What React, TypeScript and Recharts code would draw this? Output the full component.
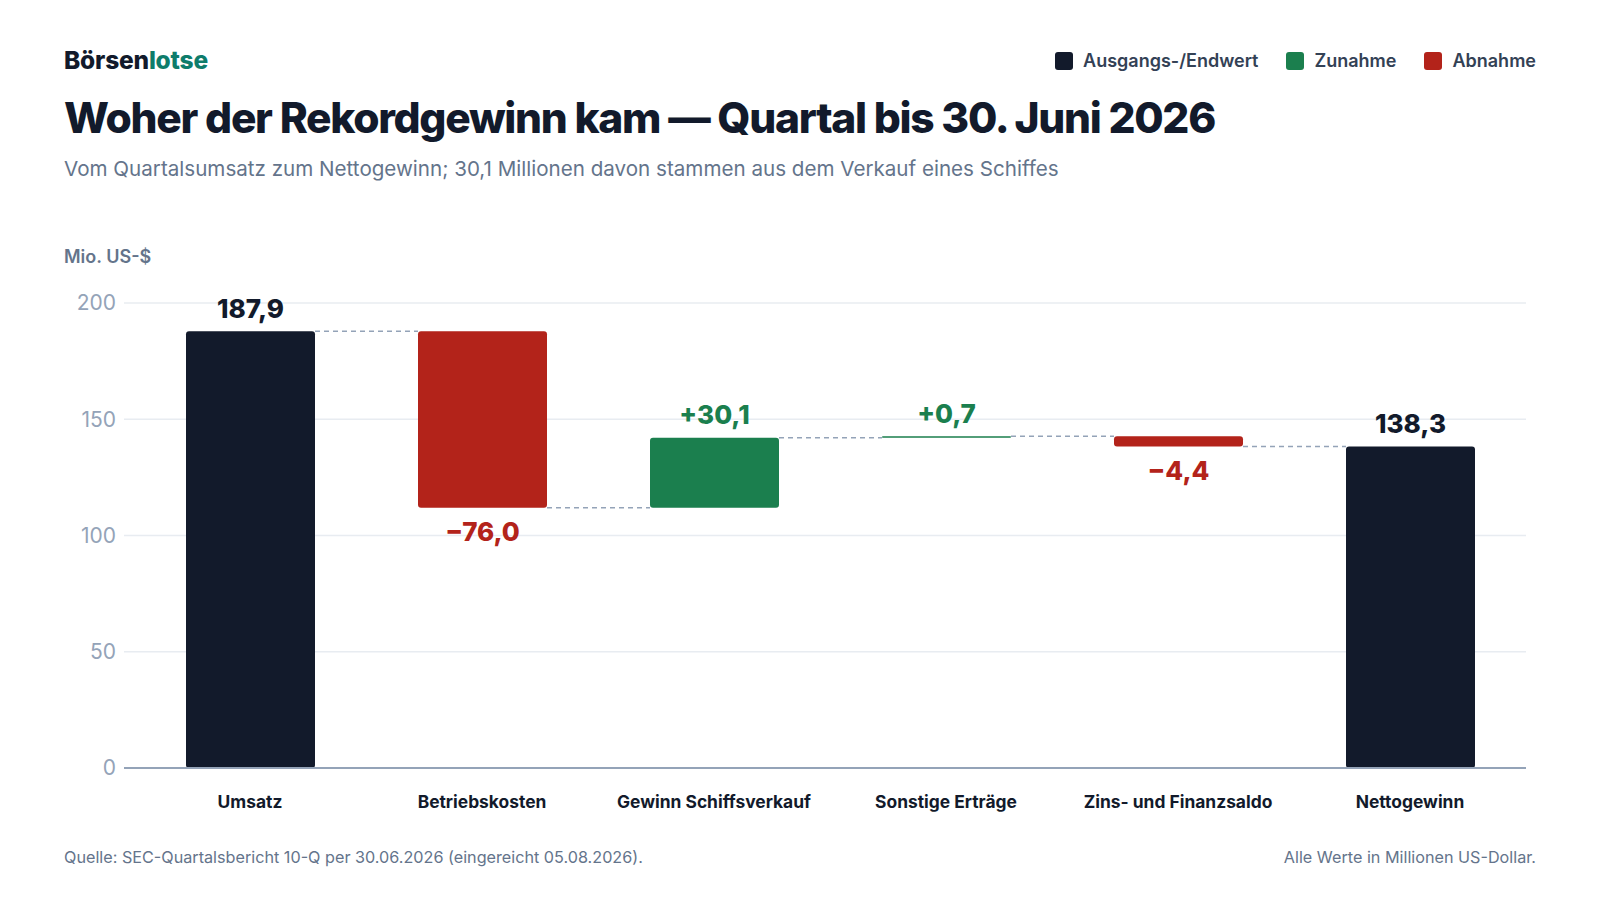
import { Bar, BarChart, CartesianGrid, XAxis, YAxis } from "recharts";

const categories = [
  "Umsatz",
  "Betriebskosten",
  "Gewinn Schiffsverkauf",
  "Sonstige Erträge",
  "Zins- und Finanzsaldo",
  "Nettogewinn",
];
const deltas = [187.9, -76.0, 30.1, 0.7, -4.4, 138.3];
const kinds = ["total", "dec", "inc", "inc", "dec", "total"];
const yTicks = [0, 50, 100, 150, 200];

const legendItems = [
  { label: "Ausgangs-/Endwert", kind: "total" },
  { label: "Zunahme", kind: "inc" },
  { label: "Abnahme", kind: "dec" },
];

const COLORS: Record<string, string> = {
  total: "#121a2b",
  inc: "#1b7f4e",
  dec: "#b3231a",
};

const FONT = "Inter, 'Noto Sans', sans-serif";
const INK = "#121a2b";
const MUTED = "#64748b";

// layout
const W = 1600;
const H = 900;
const MARGIN = { top: 303, right: 74, bottom: 92, left: 64 };
const Y_AXIS_W = 60;
const X_PAD_LEFT = 10;
const BAND = (W - MARGIN.left - MARGIN.right - Y_AXIS_W - X_PAD_LEFT) / categories.length;
const BAR_SIZE = 129;

// running totals -> floating bars
let running = 0;
const rows = categories.map((name, i) => {
  const kind = kinds[i];
  const d = deltas[i];
  let low: number;
  let high: number;
  let end: number;
  if (kind === "total") {
    low = 0;
    high = d;
    end = d;
  } else {
    const start = running;
    end = running + d;
    low = Math.min(start, end);
    high = Math.max(start, end);
  }
  running = end;
  return { name, kind, delta: d, base: low, span: high - low, low, high, end };
});

const fmt = (v: number, kind: string) => {
  const s = Math.abs(v).toFixed(1).replace(".", ",");
  if (kind === "inc") return `+${s}`;
  if (kind === "dec") return `\u2212${s}`;
  return s;
};

function roundedRect(x: number, y: number, w: number, h: number, r: number) {
  const rr = Math.max(0, Math.min(r, h / 2, w / 2));
  return `M${x + rr},${y} H${x + w - rr} Q${x + w},${y} ${x + w},${y + rr} V${y + h - rr} Q${x + w},${y + h} ${x + w - rr},${y + h} H${x + rr} Q${x},${y + h} ${x},${y + h - rr} V${y + rr} Q${x},${y} ${x + rr},${y} Z`;
}

function WaterfallBar(props: any) {
  const { x, y, width, height, payload, index } = props;
  const color = COLORS[payload.kind];
  const h = Math.max(height, 1.5);
  const levelY = payload.end >= payload.high ? y : y + height;
  const isLast = index === rows.length - 1;
  const above = payload.kind !== "dec";
  return (
    <g>
      <path d={roundedRect(x, y, width, h, 3)} fill={color} />
      {!isLast && (
        <line
          x1={x + width}
          x2={x + BAND}
          y1={levelY}
          y2={levelY}
          stroke="#94a3b8"
          strokeWidth={1.5}
          strokeDasharray="5 4"
        />
      )}
      <text
        x={x + width / 2}
        y={above ? y - 23 : y + height + 24}
        textAnchor="middle"
        dominantBaseline="central"
        fill={color}
        fontFamily={FONT}
        fontWeight={800}
        fontSize={26}
      >
        {fmt(payload.delta, payload.kind)}
      </text>
    </g>
  );
}

function CategoryTick(props: any) {
  const { x, y, payload } = props;
  return (
    <text
      x={x}
      y={y + 25}
      textAnchor="middle"
      dominantBaseline="central"
      fill={INK}
      fontFamily={FONT}
      fontWeight={700}
      fontSize={17.4}
    >
      {payload.value}
    </text>
  );
}

export default function App() {
  return (
    <div
      style={{
        position: "absolute",
        left: 0,
        top: 0,
        width: W,
        height: H,
        background: "#ffffff",
        fontFamily: FONT,
        overflow: "hidden",
      }}
    >
      <div
        style={{
          position: "absolute",
          left: 64,
          top: 48,
          fontSize: 24.5,
          lineHeight: "25px",
          fontWeight: 800,
          color: INK,
          letterSpacing: -0.2,
        }}
      >
        Börsen<span style={{ color: "#0e7c6b" }}>lotse</span>
      </div>

      <div
        style={{
          position: "absolute",
          right: 64,
          top: 51,
          display: "flex",
          gap: 28,
          fontSize: 18,
          lineHeight: "20px",
          fontWeight: 600,
          color: "#334155",
        }}
      >
        {legendItems.map((item) => (
          <span key={item.kind} style={{ display: "flex", alignItems: "center", gap: 10 }}>
            <i
              style={{
                display: "inline-block",
                width: 18,
                height: 18,
                borderRadius: 3,
                background: COLORS[item.kind],
              }}
            />
            {item.label}
          </span>
        ))}
      </div>

      <div
        style={{
          position: "absolute",
          left: 64,
          top: 96,
          fontSize: 42.5,
          lineHeight: "43px",
          fontWeight: 800,
          color: INK,
          letterSpacing: -1.3,
        }}
      >
        Woher der Rekordgewinn kam — Quartal bis 30. Juni 2026
      </div>

      <div
        style={{
          position: "absolute",
          left: 64,
          top: 158,
          fontSize: 20.6,
          lineHeight: "21px",
          color: MUTED,
        }}
      >
        Vom Quartalsumsatz zum Nettogewinn; 30,1 Millionen davon stammen aus dem Verkauf eines Schiffes
      </div>

      <div
        style={{
          position: "absolute",
          left: 64,
          top: 248,
          fontSize: 18,
          lineHeight: "18px",
          fontWeight: 600,
          color: MUTED,
        }}
      >
        Mio. US-$
      </div>

      <div style={{ position: "absolute", left: 0, top: 0 }}>
        <BarChart width={W} height={H} data={rows} margin={MARGIN} barSize={BAR_SIZE}>
          <CartesianGrid stroke="#e8ecf1" strokeWidth={1.5} vertical={false} />
          <XAxis
            dataKey="name"
            interval={0}
            height={40}
            padding={{ left: X_PAD_LEFT, right: 0 }}
            tickLine={false}
            axisLine={{ stroke: "#94a3b8", strokeWidth: 2 }}
            tick={<CategoryTick />}
          />
          <YAxis
            width={Y_AXIS_W}
            domain={[0, 200]}
            ticks={yTicks}
            tickLine={false}
            axisLine={false}
            tick={{ fill: "#94a3b8", fontSize: 21, fontFamily: FONT }}
          />
          <Bar dataKey="base" stackId="wf" fill="transparent" isAnimationActive={false} />
          <Bar dataKey="span" stackId="wf" shape={<WaterfallBar />} isAnimationActive={false} />
        </BarChart>
      </div>

      <div
        style={{
          position: "absolute",
          left: 64,
          top: 849,
          fontSize: 16.2,
          lineHeight: "17px",
          color: MUTED,
        }}
      >
        Quelle: SEC-Quartalsbericht 10-Q per 30.06.2026 (eingereicht 05.08.2026).
      </div>
      <div
        style={{
          position: "absolute",
          right: 64,
          top: 849,
          fontSize: 16.2,
          lineHeight: "17px",
          color: MUTED,
        }}
      >
        Alle Werte in Millionen US-Dollar.
      </div>
    </div>
  );
}
